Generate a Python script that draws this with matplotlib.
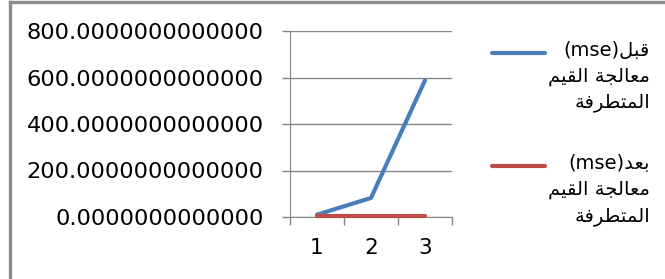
import matplotlib.pyplot as plt
from matplotlib.lines import Line2D
from matplotlib.ticker import FormatStrFormatter

# data
categories = ['1', '2', '3']
mse_before = [10, 82, 588]
mse_after = [3, 3, 3]
y_ticks = [0, 200, 400, 600, 800]
# Arabic labels, pre-shaped (presentation forms, visual order) since matplotlib has no bidi
legend_labels = ['(mse)ﻞﺒﻗ\nﻢﻴﻘﻟﺍ ﺔﺠﻟﺎﻌﻣ\nﺔﻓﺮﻄﺘﻤﻟﺍ',
                 '(mse)ﺪﻌﺑ\nﻢﻴﻘﻟﺍ ﺔﺠﻟﺎﻌﻣ\nﺔﻓﺮﻄﺘﻤﻟﺍ']
colors = ['#4a7ebb', '#be4b48']

W, H = 665, 279
plt.rcParams['font.family'] = ['DejaVu Sans']
fig = plt.figure(figsize=(W / 100, H / 100), dpi=100)

# outer chart frame (left + top visible)
fig.add_artist(Line2D([10 / W, 10 / W], [0, 1 - 2 / H], color='#8c8c8c', lw=2.4))
fig.add_artist(Line2D([10 / W, 1], [1 - 2 / H, 1 - 2 / H], color='#8c8c8c', lw=2.4))

ax = fig.add_axes([290 / W, 1 - 217 / H, 162 / W, 186 / H])
x = range(1, len(categories) + 1)
ax.plot(x, mse_before, color=colors[0], lw=3, solid_capstyle='round', zorder=3)
ax.plot(x, mse_after, color=colors[1], lw=3, solid_capstyle='round', zorder=3,
        clip_on=False)

ax.set_xlim(0.5, 3.5)
ax.set_ylim(0, 800)
ax.set_yticks(y_ticks)
ax.yaxis.set_major_formatter(FormatStrFormatter('%.13f'))
ax.grid(axis='y', color='#868686', lw=1)
ax.set_axisbelow(True)
ax.set_xticks(list(x), categories)
ax.set_xticks([0.5, 1.5, 2.5, 3.5], minor=True)
ax.tick_params(axis='x', which='major', length=0, pad=15, labelsize=15.5)
ax.tick_params(axis='x', which='minor', length=6, width=1, color='#868686')
ax.tick_params(axis='y', length=6, width=1, color='#868686', pad=13, labelsize=16.2)
for s in ['top', 'right']:
    ax.spines[s].set_visible(False)
for s in ['left', 'bottom']:
    ax.spines[s].set_color('#868686')

# legend drawn by hand: line sample + right aligned multi-line label
for i, (lab, col) in enumerate(zip(legend_labels, colors)):
    yc = 53 + i * 113
    fig.add_artist(Line2D([492 / W, 545 / W], [1 - yc / H] * 2, color=col, lw=3,
                          solid_capstyle='round'))
    fig.text(650 / W, 1 - (yc - 12) / H, lab, ha='right', va='top',
             multialignment='right', fontsize=14, linespacing=1.45)

fig.savefig('out.png', dpi=100)
